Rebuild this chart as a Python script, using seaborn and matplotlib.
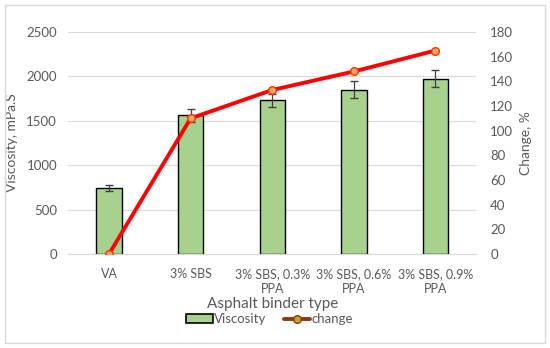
import numpy as np
import pandas as pd
import matplotlib
matplotlib.use('Agg')
import matplotlib.pyplot as plt
import seaborn as sns
from matplotlib.lines import Line2D
from matplotlib.patches import Patch, Rectangle

# data
binders = ['VA', '3% SBS', '3% SBS, 0.3%\nPPA', '3% SBS, 0.6%\nPPA', '3% SBS, 0.9%\nPPA']
viscosity = [745, 1560, 1730, 1850, 1975]
visc_err = [30, 70, 75, 95, 95]
change = [0, 110, 133, 148, 165]

data = pd.DataFrame({'Binder': binders, 'Viscosity': viscosity})

sns.set_style('white')
plt.rcParams['font.family'] = ['Lato', 'DejaVu Sans']
grey = '#595959'

fig = plt.figure(figsize=(5.5, 3.48), dpi=100)
ax = fig.add_axes([0.124, 0.27, 0.742, 0.638])

sns.barplot(x='Binder', y='Viscosity', data=data, color='#A9D18E', edgecolor='black',
            linewidth=1.0, width=0.31, saturation=1, ax=ax)
pos = np.arange(len(binders))
ax.errorbar(pos, viscosity, yerr=visc_err, fmt='none', ecolor='#404040', elinewidth=0.9, capsize=3)

ax.set_ylim(0, 2500)
ax.set_xlim(-0.5, len(binders) - 0.5)
ax.set_yticks(range(0, 2501, 500))
ax.yaxis.grid(True, color='#d9d9d9', linewidth=0.8)
ax.set_axisbelow(True)
for s in ax.spines.values():
    s.set_visible(False)
ax.spines['bottom'].set_visible(True)
ax.spines['bottom'].set_color('#d9d9d9')
ax.tick_params(axis='y', length=0, labelsize=9.5, labelcolor=grey, pad=8)
ax.tick_params(axis='x', length=0, labelsize=9, labelcolor=grey, pad=10)
for t in ax.get_xticklabels():
    t.set_linespacing(1.35)
ax.set_ylabel('Viscosity, mPa.S', fontsize=10, color=grey, labelpad=6)
ax.set_xlabel('Asphalt binder type', fontsize=11, color=grey, labelpad=1)

ax2 = ax.twinx()
ax2.plot(pos, change, color='#FF0000', linewidth=2.8, marker='o', markersize=5.5,
         markerfacecolor='#F4A460', markeredgecolor='#FF3300', markeredgewidth=1)
ax2.set_ylim(0, 180)
ax2.set_yticks(range(0, 181, 20))
for s in ax2.spines.values():
    s.set_visible(False)
ax2.tick_params(axis='y', length=0, labelsize=9.5, labelcolor=grey, pad=10)
ax2.set_ylabel('Change, %', fontsize=10, color=grey, labelpad=5)

handles = [Patch(facecolor='#A9D18E', edgecolor='black', linewidth=1.2),
           Line2D([0], [0], color='#8B3A0F', linewidth=2.8, marker='o', markersize=5.5,
                  markerfacecolor='#C9A227', markeredgecolor='#8B3A0F')]
fig.legend(handles, ['Viscosity', 'change'], loc='center', bbox_to_anchor=(0.49, 0.083),
           ncol=2, frameon=False, fontsize=9.5, labelcolor=grey, handlelength=2.0,
           handleheight=0.6, handletextpad=0.1, columnspacing=1.3, borderpad=0)

fig.patches.append(Rectangle((0.009, 0.014), 0.982, 0.972, transform=fig.transFigure,
                             fill=False, edgecolor='#d9d9d9', linewidth=1))

plt.savefig('out.png', dpi=100)
